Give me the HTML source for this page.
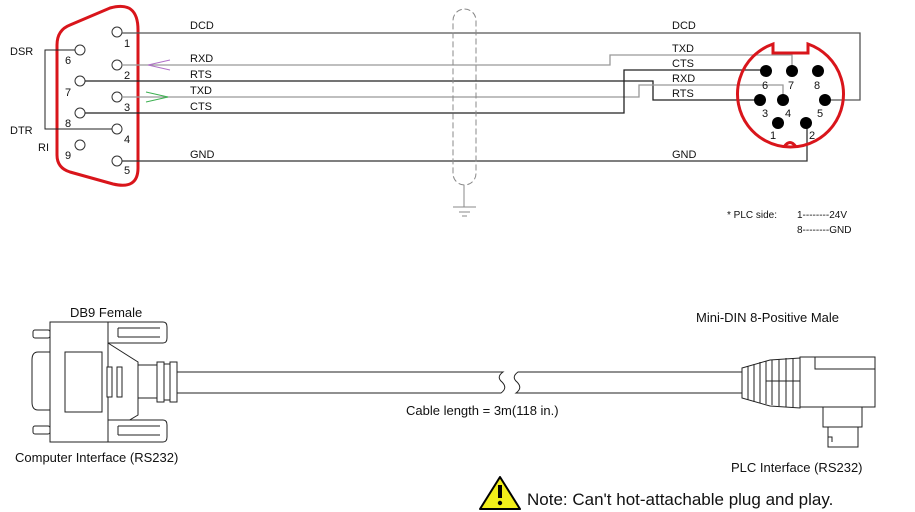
<!DOCTYPE html>
<html><head><meta charset="utf-8"><style>
html,body{margin:0;padding:0;background:#fff;width:915px;height:512px;overflow:hidden}
svg text{font-family:"Liberation Sans",Arial,sans-serif;fill:#111}
</style></head><body>
<svg width="915" height="512" viewBox="0 0 915 512" xmlns="http://www.w3.org/2000/svg">
<g font-size="11">
<!-- DB9 outline -->
<path d="M57,45 Q57,30 70,25 L110,8 Q138,0 138,30 L138,168 Q138,190 113,184 L70,172 Q57,168 57,155 Z" fill="none" stroke="#d9151b" stroke-width="3"/>
<g fill="none" stroke="#333" stroke-width="1">
<circle cx="117" cy="32" r="5"/><circle cx="117" cy="65" r="5"/><circle cx="117" cy="97" r="5"/><circle cx="117" cy="129" r="5"/><circle cx="117" cy="161" r="5"/>
<circle cx="80" cy="50" r="5"/><circle cx="80" cy="81" r="5"/><circle cx="80" cy="113" r="5"/><circle cx="80" cy="145" r="5"/>
</g>
<text x="124" y="47">1</text><text x="124" y="79">2</text><text x="124" y="111">3</text><text x="124" y="143">4</text><text x="124" y="174">5</text>
<text x="65" y="64">6</text><text x="65" y="96">7</text><text x="65" y="127">8</text><text x="65" y="159">9</text>
<text x="10" y="55">DSR</text><text x="10" y="134">DTR</text><text x="38" y="151">RI</text>
<!-- DSR-DTR -->
<polyline points="75,50 45,50 45,129 112,129" fill="none" stroke="#222" stroke-width="1"/>
<!-- wires -->
<g fill="none" stroke-width="1.3">
<polyline points="122,33 860,33 860,100 831,100" stroke="#555"/>
<polyline points="122,65 610,65 610,55 792,55 792,71" stroke="#999"/>
<polyline points="85,81 653,81 653,100 760,100" stroke="#222"/>
<polyline points="122,97 639,97 639,85 783,85 783,100" stroke="#999"/>
<polyline points="85,113 624,113 624,70 766,70" stroke="#222"/>
<polyline points="122,161 807,161 807,123" stroke="#333"/>
</g>
<polyline points="170,60 148,65 170,70" fill="none" stroke="#b070c8" stroke-width="1"/>
<polyline points="146,92 168,97 146,102" fill="none" stroke="#3cb050" stroke-width="1"/>
<text x="190" y="29">DCD</text><text x="190" y="62">RXD</text><text x="190" y="78">RTS</text><text x="190" y="94">TXD</text><text x="190" y="110">CTS</text><text x="190" y="158">GND</text>
<text x="672" y="29">DCD</text><text x="672" y="52">TXD</text><text x="672" y="67">CTS</text><text x="672" y="82">RXD</text><text x="672" y="97">RTS</text><text x="672" y="158">GND</text>
<!-- shield -->
<rect x="453" y="9" width="23" height="176" rx="11.5" fill="none" stroke="#888" stroke-dasharray="6,3"/>
<line x1="464" y1="185" x2="464" y2="207" stroke="#888"/>
<line x1="453" y1="207" x2="476" y2="207" stroke="#888"/>
<line x1="459" y1="212" x2="470" y2="212" stroke="#888"/>
<line x1="462" y1="216" x2="467" y2="216" stroke="#888"/>
<!-- mini din -->
<path d="M773,44 A53,53 0 1 0 808,44 L808,53 L773,53 Z" fill="none" stroke="#d9151b" stroke-width="3"/>
<path d="M784,147 Q790,138 796,147" fill="none" stroke="#d9151b" stroke-width="3"/>
<g fill="#000">
<circle cx="766" cy="71" r="6"/><circle cx="792" cy="71" r="6"/><circle cx="818" cy="71" r="6"/>
<circle cx="760" cy="100" r="6"/><circle cx="783" cy="100" r="6"/><circle cx="825" cy="100" r="6"/>
<circle cx="778" cy="123" r="6"/><circle cx="806" cy="123" r="6"/>
</g>
<text x="762" y="89">6</text><text x="788" y="89">7</text><text x="814" y="89">8</text>
<text x="762" y="117">3</text><text x="785" y="117">4</text><text x="817" y="117">5</text>
<text x="770" y="139">1</text><text x="809" y="139">2</text>
<text x="727" y="218" font-size="10">* PLC side:</text>
<text x="797" y="218" font-size="10">1--------24V</text>
<text x="797" y="233" font-size="10">8--------GND</text>
</g>
<!-- bottom DB9 -->
<g fill="#fff" stroke="#222" stroke-width="1">
<rect x="33" y="330" width="17" height="8" rx="2"/>
<rect x="33" y="426" width="17" height="8" rx="2"/>
<path d="M50,352 L38,352 Q32,352 32,360 L32,402 Q32,410 38,410 L50,410"/>
<rect x="50" y="322" width="58" height="120"/>
<polygon points="108,343 138,362 138,415 108,433"/>
<rect x="65" y="352" width="37" height="60"/>
<rect x="107" y="367" width="5" height="30"/><rect x="117" y="367" width="5" height="30"/>
<path d="M108,322 L163,322 Q167,322 167,327 L167,338 Q167,343 163,343 L108,343 Z"/>
<line x1="118" y1="328" x2="160" y2="328"/><line x1="118" y1="337" x2="160" y2="337"/><line x1="118" y1="328" x2="118" y2="337"/>
<path d="M108,420 L163,420 Q167,420 167,425 L167,437 Q167,442 163,442 L108,442 Z"/>
<line x1="118" y1="426" x2="160" y2="426"/><line x1="118" y1="435" x2="160" y2="435"/><line x1="118" y1="426" x2="118" y2="435"/>
<rect x="138" y="365" width="20" height="33"/>
<rect x="157" y="362" width="7" height="40"/><rect x="164" y="364" width="6" height="36"/><rect x="170" y="362" width="7" height="40"/>
</g>
<g fill="none" stroke="#222" stroke-width="1">
<path d="M177,372 L503,372 Q496,377 502,382 Q508,388 501,393 L177,393"/>
<path d="M742,372 L518,372 Q511,377 517,382 Q523,388 516,393 L742,393"/>
<polygon points="742,368 770,360 800,358 800,408 770,406 742,398" fill="#fff"/>
<line x1="748" y1="366" x2="748" y2="400"/><line x1="754" y1="364" x2="754" y2="402"/><line x1="760" y1="362" x2="760" y2="403"/><line x1="766" y1="361" x2="766" y2="404"/><line x1="772" y1="360" x2="772" y2="405"/><line x1="779" y1="359" x2="779" y2="406"/><line x1="786" y1="358" x2="786" y2="407"/><line x1="793" y1="358" x2="793" y2="407"/>
<line x1="766" y1="381" x2="800" y2="381"/>
<rect x="800" y="357" width="75" height="50" fill="#fff"/>
<rect x="815" y="357" width="60" height="12"/>
<rect x="823" y="407" width="39" height="20"/>
<path d="M828,427 L828,447 L858,447 L858,427"/>
<path d="M828,437 L832,437 L832,442"/>
</g>
<g font-size="13">
<text x="70" y="317">DB9 Female</text>
<text x="15" y="462">Computer Interface (RS232)</text>
<text x="696" y="322">Mini-DIN 8-Positive Male</text>
<text x="406" y="415">Cable length = 3m(118 in.)</text>
<text x="731" y="472">PLC Interface (RS232)</text>
</g>
<polygon points="500,477 520,509 480,509" fill="#f2ee1a" stroke="#000" stroke-width="2" stroke-linejoin="round"/>
<rect x="498" y="485" width="4" height="13" fill="#000"/><circle cx="500" cy="503" r="2.2" fill="#000"/>
<text x="527" y="505" font-size="17">Note: Can't hot-attachable plug and play.</text>
</svg>
</body></html>
